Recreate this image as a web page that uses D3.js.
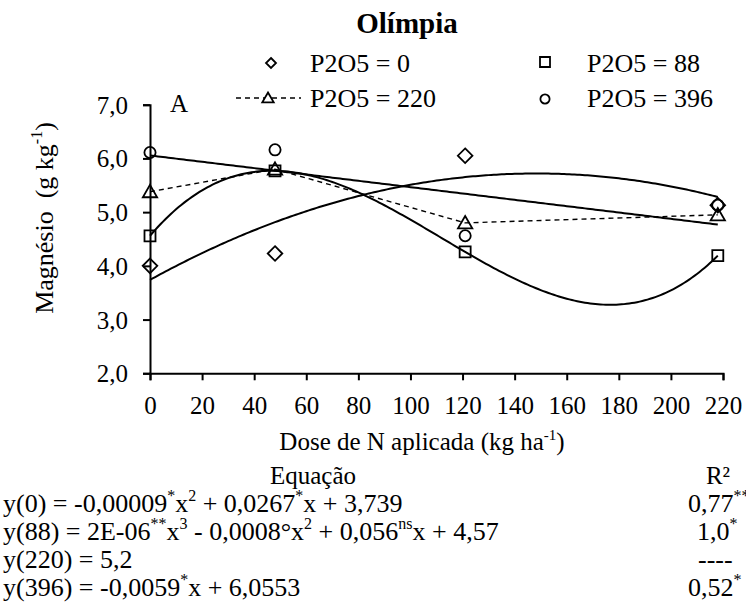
<!DOCTYPE html>
<html>
<head>
<meta charset="utf-8">
<script src="https://cdn.jsdelivr.net/npm/d3@7"></script>
<style>
  html, body { margin: 0; padding: 0; background: #fff; }
  svg text { fill: #000; white-space: pre; }
</style>
</head>
<body>
<svg id="chart" width="746" height="613"></svg>
<script>
// N doses (kg/ha) and magnesium contents (g/kg) for each P2O5 level
const doses = [0, 48, 121, 218];
const mgP0 = [4.00, 4.23, 6.05, 5.13];
const mgP88 = [4.56, 5.77, 4.26, 4.19];
const mgP220 = [5.38, 5.80, 4.80, 4.95];
const mgP396 = [6.11, 6.16, 4.56, 5.13];

// published regression coefficients (constant, linear, quadratic)
const coefP0 = [3.739, 0.0267, -0.00009];
const coefP396 = [6.0553, -0.0059];

const xTickValues = [0, 20, 40, 60, 80, 100, 120, 140, 160, 180, 200, 220];
const yTickValues = [2, 3, 4, 5, 6, 7];

const legendLabels = ["P2O5 = 0", "P2O5 = 88", "P2O5 = 220", "P2O5 = 396"];

// equation table: each line is a list of [text, superscript?] runs
const equationLines = [
  [["y(0) = -0,00009"], ["*", 1], ["x"], ["2", 1], [" + 0,0267"], ["*", 1], ["x + 3,739"]],
  [["y(88) = 2E-06"], ["**", 1], ["x"], ["3", 1], [" - 0,0008°x"], ["2", 1], [" + 0,056"], ["ns", 1], ["x + 4,57"]],
  [["y(220) = 5,2"]],
  [["y(396) = -0,0059"], ["*", 1], ["x + 6,0553"]]
];
const r2Lines = [
  [["0,77"], ["**", 1]],
  [["1,0"], ["*", 1]],
  [["----"]],
  [["0,52"], ["*", 1]]
];

const FONT = '"Liberation Serif", "Times New Roman", serif';
const svg = d3.select("#chart");

const x = d3.scaleLinear().domain([0, 220]).range([150, 723]);
const y = d3.scaleLinear().domain([2, 7]).range([373.3, 104.7]);

// least-squares polynomial fit (normal equations, Gaussian elimination)
function polyfit(xs, ys, deg) {
  const n = deg + 1;
  const A = Array.from({length: n}, () => new Array(n + 1).fill(0));
  for (let i = 0; i < xs.length; i++) {
    for (let r = 0; r < n; r++) {
      for (let c = 0; c < n; c++) A[r][c] += Math.pow(xs[i], r + c);
      A[r][n] += ys[i] * Math.pow(xs[i], r);
    }
  }
  for (let p = 0; p < n; p++) {
    let best = p;
    for (let r = p + 1; r < n; r++) if (Math.abs(A[r][p]) > Math.abs(A[best][p])) best = r;
    [A[p], A[best]] = [A[best], A[p]];
    for (let r = 0; r < n; r++) {
      if (r === p) continue;
      const f = A[r][p] / A[p][p];
      for (let c = p; c <= n; c++) A[r][c] -= f * A[p][c];
    }
  }
  return A.map((row, i) => row[n] / row[i]);
}
const polyVal = (coef, v) => coef.reduce((s, c, i) => s + c * Math.pow(v, i), 0);

const coefP88 = polyfit(doses, mgP88, 3);

// ---- axes ----
const yAxis = d3.axisLeft(y).tickValues(yTickValues).tickSize(7).tickPadding(15)
  .tickFormat(d => d3.format(".1f")(d).replace(".", ","));
const xAxis = d3.axisBottom(x).tickValues(xTickValues).tickSize(7).tickPadding(16)
  .tickFormat(d3.format("d"));

const gy = svg.append("g").attr("transform", "translate(150,0)").call(yAxis);
const gx = svg.append("g").attr("transform", "translate(0,373.3)").call(xAxis);
[gx, gy].forEach(g => {
  g.select(".domain").attr("stroke", "#000").attr("stroke-width", 2);
  g.selectAll(".tick line").attr("stroke", "#000").attr("stroke-width", 2);
  g.selectAll(".tick text").attr("font-size", 25).style("font-family", FONT);
});
gy.selectAll(".tick text").attr("dy", "0.34em");

// ---- trend lines ----
const trendX = d3.range(0, 218.5, 1);
const line = d3.line().x(d => x(d[0])).y(d => y(d[1]));
const trendGroup = svg.append("g").attr("fill", "none").attr("stroke", "#000").attr("stroke-width", 2);
[coefP0, coefP88, coefP396].forEach(coef => {
  trendGroup.append("path").attr("d", line(trendX.map(v => [v, polyVal(coef, v)])));
});
// P2O5 = 220 has no significant fit: points joined by a dashed line
svg.append("path")
  .attr("d", line(doses.map((d, i) => [d, mgP220[i]])))
  .attr("fill", "none").attr("stroke", "#000").attr("stroke-width", 1.4)
  .attr("stroke-dasharray", "5,4");

// ---- markers ----
const shapes = {
  diamond: s => `M0,${-s}L${s},0L0,${s}L${-s},0Z`,
  square: s => `M${-s},${-s}H${s}V${s}H${-s}Z`,
  triangle: s => `M0,${-s * 1.05}L${s * 1.1},${s * 0.85}H${-s * 1.1}Z`,
  circle: s => `M${s},0A${s},${s} 0 1,1 ${-s},0A${s},${s} 0 1,1 ${s},0Z`
};
const seriesDefs = [
  {vals: mgP0, shape: "diamond", size: 7.3},
  {vals: mgP88, shape: "square", size: 5.5},
  {vals: mgP220, shape: "triangle", size: 6.5},
  {vals: mgP396, shape: "circle", size: 5.6}
];
seriesDefs.forEach(s => {
  svg.append("g").selectAll("path").data(doses).join("path")
    .attr("transform", (d, i) => `translate(${x(d)},${y(s.vals[i])})`)
    .attr("d", shapes[s.shape](s.size))
    .attr("fill", "none").attr("stroke", "#000").attr("stroke-width", 1.8);
});

// ---- text helpers ----
function plainText(parent, str, px, py, size, anchor) {
  return parent.append("text").attr("x", px).attr("y", py)
    .attr("text-anchor", anchor || "start").attr("font-size", size)
    .style("font-family", FONT).text(str);
}
function richText(g, runs, size, supSize) {
  const t = g.append("text").attr("font-size", size).style("font-family", FONT);
  let raised = false;
  runs.forEach(([str, sup]) => {
    const ts = t.append("tspan").text(str);
    if (sup && !raised) { ts.attr("font-size", supSize).attr("dy", -size * 0.42); raised = true; }
    else if (!sup && raised) { ts.attr("dy", size * 0.42); raised = false; }
    else if (sup) ts.attr("font-size", supSize);
  });
  return t;
}

// ---- title, panel letter ----
plainText(svg, "Olímpia", 407, 33, 29, "middle").attr("font-weight", "bold");
plainText(svg, "A", 170, 112, 25);

// ---- legend ----
const legendPos = [
  {mx: 271, my: 63, tx: 310, ty: 72, shape: "diamond", size: 5},
  {mx: 545, my: 62, tx: 587, ty: 72, shape: "square", size: 5},
  {mx: 268, my: 98, tx: 310, ty: 107, shape: "triangle", size: 5.2, dashed: true},
  {mx: 545, my: 99, tx: 587, ty: 107, shape: "circle", size: 4.6}
];
const lg = svg.append("g");
legendPos.forEach((p, i) => {
  if (p.dashed) {
    lg.append("line").attr("x1", 236).attr("x2", 301).attr("y1", p.my).attr("y2", p.my)
      .attr("stroke", "#000").attr("stroke-width", 1.4).attr("stroke-dasharray", "5,4");
  }
  lg.append("path").attr("transform", `translate(${p.mx},${p.my})`)
    .attr("d", shapes[p.shape](p.size))
    .attr("fill", p.dashed ? "#fff" : "none").attr("stroke", "#000").attr("stroke-width", 1.8);
  plainText(lg, legendLabels[i], p.tx, p.ty, 26);
});

// ---- axis titles ----
richText(svg.append("g").attr("transform", "translate(422,450)"),
  [["Dose de N aplicada (kg ha"], ["-1", 1], [")"]], 25, 15).attr("text-anchor", "middle");
richText(svg.append("g").attr("transform", "translate(53,218) rotate(-90)"),
  [["Magnésio  (g kg"], ["-1", 1], [")"]], 26, 16).attr("text-anchor", "middle");

// ---- equation table ----
plainText(svg, "Equação", 313, 484, 25, "middle");
plainText(svg, "R²", 718, 484, 25, "middle");
const rowY = [512, 540, 568, 596];
const r2X = [688, 697, 698, 688];
equationLines.forEach((runs, i) => {
  richText(svg.append("g").attr("transform", `translate(3,${rowY[i]})`), runs, 26, 16);
  richText(svg.append("g").attr("transform", `translate(${r2X[i]},${rowY[i]})`), r2Lines[i], 26, 16);
});
</script>
</body>
</html>
